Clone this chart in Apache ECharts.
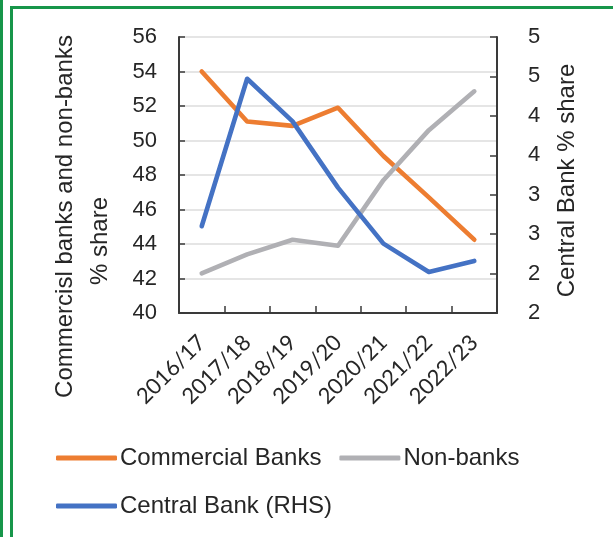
<!DOCTYPE html>
<html>
<head>
<meta charset="utf-8">
<title>Market share by lender type</title>
<script src="https://cdn.jsdelivr.net/npm/echarts@6/dist/echarts.min.js"></script>
<style>
  html, body { margin: 0; padding: 0; background: #fff; }
  #chart { width: 613px; height: 537px; }
</style>
</head>
<body>
<div id="chart"></div>
<script>
// Financial years on the category axis
const years = ['2016/17', '2017/18', '2018/19', '2019/20', '2020/21', '2021/22', '2022/23'];

// Shares in percent (left axis)
const commercialBanks = [54.0, 51.1, 50.85, 51.9, 49.1, 46.7, 44.25];
const nonBanks = [42.3, 43.4, 44.25, 43.9, 47.7, 50.6, 52.85];

// Central bank share in percent (right axis)
const centralBank = [2.6, 4.47, 3.93, 3.09, 2.38, 2.02, 2.16];

// Axis titles
const leftTitle1 = 'Commercisl banks and non-banks';
const leftTitle2 = '% share';
const rightTitle = 'Central Bank % share';

const FONT = '"Liberation Sans", Arial, Helvetica, sans-serif';
const TEXT = '#262626';
const AXIS = '#3a3a3a';
const GREEN = '#17964a';
const COLORS = { commercial: '#ED7D31', nonbank: '#B0B0B4', central: '#4472C4' };

const chart = echarts.init(document.getElementById('chart'), null, { renderer: 'canvas' });

const lineSeries = (name, data, color, yAxisIndex) => ({
  name, type: 'line', data, yAxisIndex,
  symbol: 'none', smooth: false,
  lineStyle: { color, width: 4.6, cap: 'round', join: 'round' },
  itemStyle: { color },
  z: yAxisIndex === 1 ? 3 : 2
});

chart.setOption({
  animation: false,
  backgroundColor: '#ffffff',
  color: [COLORS.commercial, COLORS.nonbank, COLORS.central],
  grid: { left: 179, right: 116, top: 37, bottom: 224, containLabel: false },
  legend: [
    {
      data: ['Commercial Banks', 'Non-banks'],
      left: 51, top: 441,
      icon: 'roundRect', itemWidth: 61, itemHeight: 5, itemGap: 18,
      textStyle: { fontFamily: FONT, fontSize: 24, color: TEXT, padding: [0, 0, 0, -2] }
    },
    {
      data: ['Central Bank (RHS)'],
      left: 51, top: 489,
      icon: 'roundRect', itemWidth: 61, itemHeight: 5,
      textStyle: { fontFamily: FONT, fontSize: 24, color: TEXT, padding: [0, 0, 0, -2] }
    }
  ],
  xAxis: {
    type: 'category',
    data: years,
    boundaryGap: true,
    axisLine: { show: true, lineStyle: { color: AXIS, width: 2 } },
    axisTick: { show: true, inside: true, length: 7, lineStyle: { color: AXIS, width: 1.5 } },
    axisLabel: { rotate: 45, margin: 26, fontFamily: 'Lato, "Open Sans", sans-serif', fontSize: 22, color: TEXT, interval: 0 },
    splitLine: { show: false }
  },
  yAxis: [
    {
      type: 'value', min: 40, max: 56, interval: 2, position: 'left',
      axisLine: { show: true, lineStyle: { color: AXIS, width: 2 } },
      axisTick: { show: true, inside: true, length: 6, lineStyle: { color: AXIS, width: 1.5 } },
      axisLabel: { margin: 22, fontFamily: FONT, fontSize: 22, color: TEXT },
      splitLine: { show: true, lineStyle: { color: '#DCDCDC', width: 1.5 } }
    },
    {
      type: 'value', min: 1.5, max: 5, interval: 0.5, position: 'right',
      axisLine: { show: true, lineStyle: { color: AXIS, width: 2 } },
      axisTick: { show: true, inside: true, length: 7, lineStyle: { color: AXIS, width: 1.5 } },
      axisLabel: { margin: 31, fontFamily: FONT, fontSize: 22, color: TEXT, formatter: v => String(Math.round(v)) },
      splitLine: { show: false }
    }
  ],
  series: [
    lineSeries('Commercial Banks', commercialBanks, COLORS.commercial, 0),
    lineSeries('Non-banks', nonBanks, COLORS.nonbank, 0),
    lineSeries('Central Bank (RHS)', centralBank, COLORS.central, 1)
  ],
  graphic: [
    // green frame: double rule on the left, single rule along the top
    { type: 'rect', shape: { x: 0, y: 0, width: 3, height: 537 }, style: { fill: GREEN }, silent: true },
    { type: 'rect', shape: { x: 10, y: 6, width: 3, height: 531 }, style: { fill: GREEN }, silent: true },
    { type: 'rect', shape: { x: 10, y: 6, width: 603, height: 3 }, style: { fill: GREEN }, silent: true },
    // axis titles
    {
      type: 'text', x: 65, y: 216.5, rotation: Math.PI / 2,
      style: { text: leftTitle1, fontFamily: FONT, fontSize: 24, fill: TEXT, align: 'center', verticalAlign: 'middle' }
    },
    {
      type: 'text', x: 100, y: 241, rotation: Math.PI / 2,
      style: { text: leftTitle2, fontFamily: FONT, fontSize: 24, fill: TEXT, align: 'center', verticalAlign: 'middle' }
    },
    {
      type: 'text', x: 567, y: 180.5, rotation: Math.PI / 2,
      style: { text: rightTitle, fontFamily: FONT, fontSize: 24, fill: TEXT, align: 'center', verticalAlign: 'middle' }
    }
  ]
});
</script>
</body>
</html>
